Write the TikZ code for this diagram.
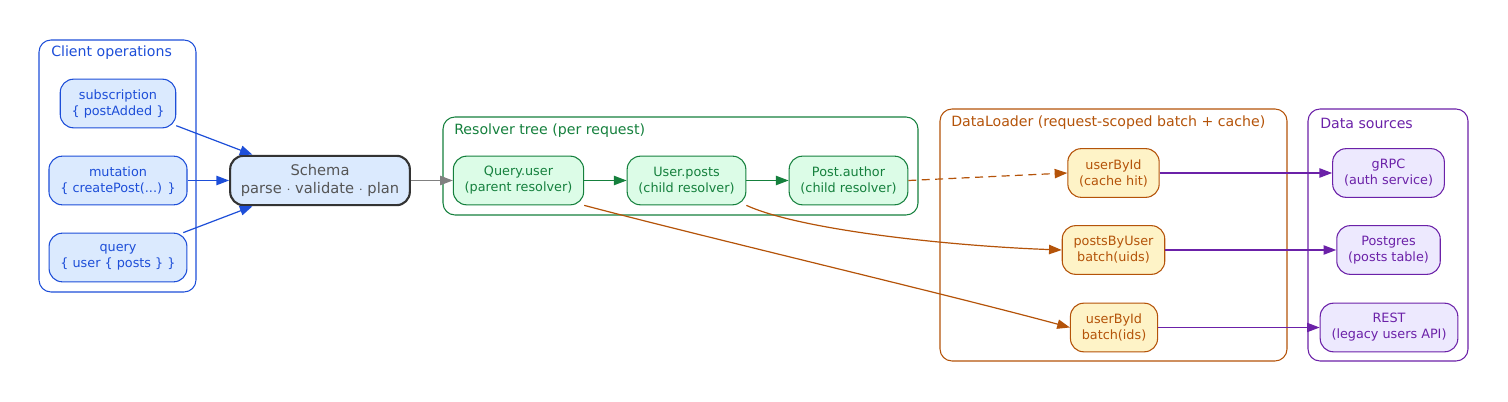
\documentclass[tikz,border=0pt]{standalone}
\usepackage{fontspec}
\setmainfont{DejaVu Sans}
\usepackage{xcolor}
\usepackage{tikz}
\usetikzlibrary{arrows.meta,positioning}
\definecolor{bluec}{HTML}{1D4ED8}
\definecolor{bluebg}{HTML}{DBEAFE}
\definecolor{greenc}{HTML}{15803D}
\definecolor{greenbg}{HTML}{DCFCE7}
\definecolor{orc}{HTML}{B45309}
\definecolor{orbg}{HTML}{FEF3C7}
\definecolor{purc}{HTML}{6B21A8}
\definecolor{purbg}{HTML}{EDE9FE}
\definecolor{darkc}{HTML}{333333}
\definecolor{grayc}{HTML}{555555}
\tikzset{
  ar/.style={-{Triangle[length=9.5pt,width=7pt]},line width=0.9pt},
  cl/.style={draw,rounded corners=9pt,line width=0.8pt},
  cllbl/.style={anchor=west,font=\fontsize{10.6}{12}\selectfont,inner sep=0pt},
  nd/.style={draw,line width=0.8pt,rounded corners=10pt,align=center,minimum height=36.5pt,inner xsep=8.5pt,
    font=\fontsize{9.6}{12}\selectfont},
  bnd/.style={nd,draw=bluec,fill=bluebg,text=bluec},
  gnd/.style={nd,draw=greenc,fill=greenbg,text=greenc},
  ond/.style={nd,draw=orc,fill=orbg,text=orc},
  pnd/.style={nd,draw=purc,fill=purbg,text=purc}
}
\begin{document}
\begin{tikzpicture}[x=0.75pt,y=-0.75pt]
\useasboundingbox (0,0) rectangle (1508,402);
% clusters
\draw[cl,bluec] (39,40) rectangle (196,292);
\node[cllbl,text=bluec] (lclient) at (51,53) {Client operations};
\draw[cl,greenc] (443,117) rectangle (918,215);
\node[cllbl,text=greenc] (lres) at (454,131) {Resolver tree (per request)};
\draw[cl,orc] (940,109) rectangle (1287,361);
\node[cllbl,text=orc] (ldl) at (951,123) {DataLoader (request-scoped batch + cache)};
\draw[cl,purc] (1308,109) rectangle (1468,361);
\node[cllbl,text=purc] (lsrc) at (1320,123) {Data sources};
% client ops
\node[bnd] (sub) at (118,103.5) {subscription\\\{ postAdded \}};
\node[bnd] (mut) at (118,180.5) {mutation\\\{ createPost(...) \}};
\node[bnd] (qry) at (118,257.5) {query\\\{ user \{ posts \} \}};
\node[nd,draw=darkc,line width=1.6pt,fill=bluebg,text=grayc,minimum height=37pt,inner xsep=8pt,
  font=\fontsize{11}{13.5}\selectfont] (schema) at (320,180.5) {Schema\\parse $\cdot$ validate $\cdot$ plan};
% resolvers
\node[gnd] (quser) at (518.5,180.5) {Query.user\\(parent resolver)};
\node[gnd] (uposts) at (686.5,180.5) {User.posts\\(child resolver)};
\node[gnd] (pauth) at (848.5,180.5) {Post.author\\(child resolver)};
% loaders
\node[ond] (ucache) at (1113.5,173) {userById\\(cache hit)};
\node[ond] (pbu) at (1113.5,250) {postsByUser\\batch(uids)};
\node[ond] (ubatch) at (1114,327.5) {userById\\batch(ids)};
% sources
\node[pnd] (grpc) at (1388.5,173) {gRPC\\(auth service)};
\node[pnd] (pg) at (1388.5,250) {Postgres\\(posts table)};
\node[pnd] (rest) at (1389,327.5) {REST\\(legacy users API)};
% edges
\draw[ar,bluec] (sub) -- (schema);
\draw[ar,bluec] (mut) -- (schema);
\draw[ar,bluec] (qry) -- (schema);
\draw[ar,gray] (schema) -- (quser);
\draw[ar,greenc] (quser) -- (uposts);
\draw[ar,greenc] (uposts) -- (pauth);
\draw[ar,orc,dash pattern=on 6pt off 4pt] (pauth.east) -- (ucache.west);
\draw[ar,orc] (uposts.south east) .. controls (800,230) and (950,246) .. (pbu.west);
\draw[ar,orc] (quser.south east) .. controls (700,236) and (950,295) .. (ubatch.west);
\draw[ar,purc] (ucache) -- (grpc);
\draw[ar,purc] (pbu) -- (pg);
\draw[ar,purc] (ubatch) -- (rest);
\end{tikzpicture}
\end{document}
